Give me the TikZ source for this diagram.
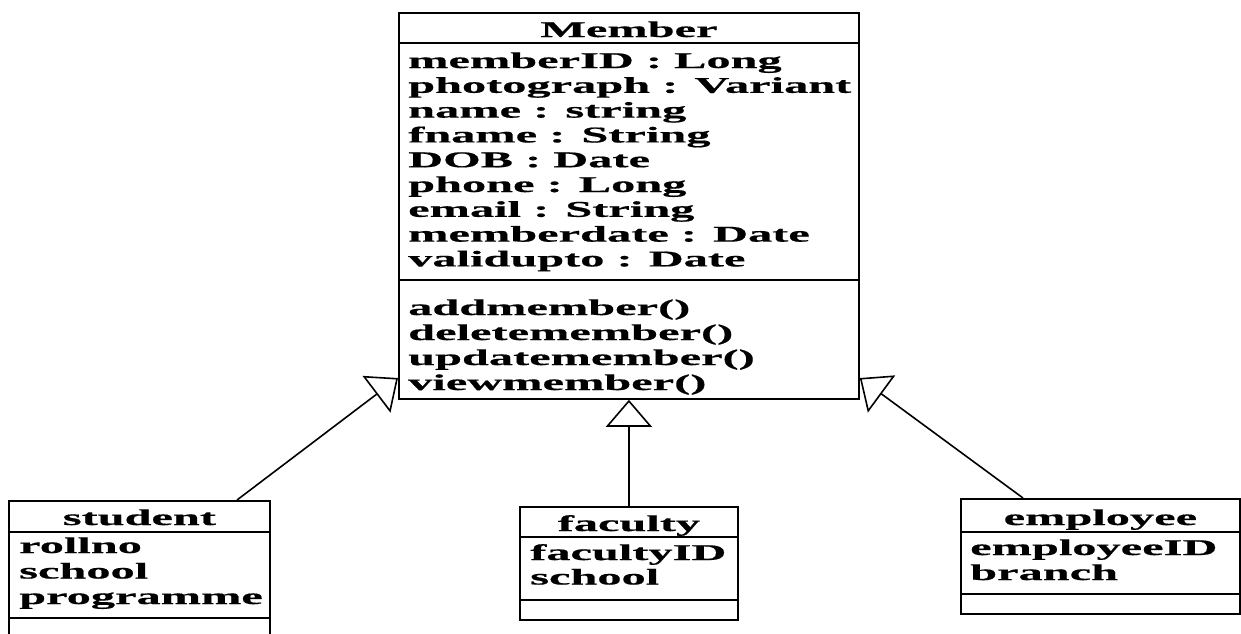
\documentclass[tikz,border=0pt]{standalone}
\usepackage{fontspec}
\setmainfont{Liberation Serif}[FakeStretch=2.15, BoldFeatures={FakeBold=0.6}]
\usetikzlibrary{arrows.meta}
\newcommand\umltext{\bfseries\fontsize{22.5pt}{24.8pt}\selectfont}
\begin{document}
\begin{tikzpicture}[x=1pt,y=-1pt,
  classbox/.style={draw, line width=1.8pt, rectangle, inner sep=0pt, anchor=north west},
  divider/.style={line width=1.5pt},
  title/.style={font=\umltext, inner sep=0pt, anchor=base},
  entry/.style={font=\umltext, inner sep=0pt, anchor=base west},
  inherits/.style={line width=1.6pt, -{Triangle[open, length=27pt, width=46pt, line width=1.6pt]}},
]
\clip (0,0) rectangle (1241,633);

% superclass Member
\node[classbox, minimum width=460pt, minimum height=386pt] (member) at (398,12) {};
\draw[divider] (member.west |- 0,43) -- (member.east |- 0,43);
\draw[divider] (member.west |- 0,280) -- (member.east |- 0,280);
\node[title] (memberT) at (member.north |- 0,37) {Member};
\foreach \t [count=\i] in {memberID : Long, photograph : Variant, name : string,
    fname : String, DOB : Date, phone : Long, email : String,
    memberdate : Date, validupto : Date}
  \node[entry] (ma\i) at (408,{68+(\i-1)*24.8}) {\t};
\foreach \t [count=\i] in {addmember(), deletemember(), updatemember(), viewmember()}
  \node[entry] (mo\i) at (408,{315+(\i-1)*25}) {\t};

% subclass student
\node[classbox, minimum width=261pt, minimum height=150pt] (student) at (8,500) {};
\draw[divider] (student.west |- 0,532) -- (student.east |- 0,532);
\draw[divider] (student.west |- 0,618) -- (student.east |- 0,618);
\node[title] (studentT) at (student.north |- 0,525) {student};
\foreach \t [count=\i] in {rollno, school, programme}
  \node[entry] (sa\i) at (19,{553+(\i-1)*25.5}) {\t};

% subclass faculty
\node[classbox, minimum width=218pt, minimum height=113pt] (faculty) at (519,506) {};
\draw[divider] (faculty.west |- 0,537) -- (faculty.east |- 0,537);
\draw[divider] (faculty.west |- 0,600) -- (faculty.east |- 0,600);
\node[title] (facultyT) at (faculty.north |- 0,531) {faculty};
\foreach \t [count=\i] in {facultyID, school}
  \node[entry] (fa\i) at (530,{560+(\i-1)*24.5}) {\t};

% subclass employee
\node[classbox, minimum width=279pt, minimum height=115pt] (employee) at (960,498) {};
\draw[divider] (employee.west |- 0,532) -- (employee.east |- 0,532);
\draw[divider] (employee.west |- 0,594) -- (employee.east |- 0,594);
\node[title] (employeeT) at (employee.north |- 0,525) {employee};
\foreach \t [count=\i] in {employeeID, branch}
  \node[entry] (ea\i) at (970,{555+(\i-1)*25}) {\t};

% generalisation arrows
\draw[inherits] (student.north -| 237,0) -- (member.west |- 0,378);
\draw[inherits] (faculty.north) -- (member.south -| faculty.north);
\draw[inherits] (employee.north -| 1023,0) -- (member.east |- 0,378);
\end{tikzpicture}
\end{document}
